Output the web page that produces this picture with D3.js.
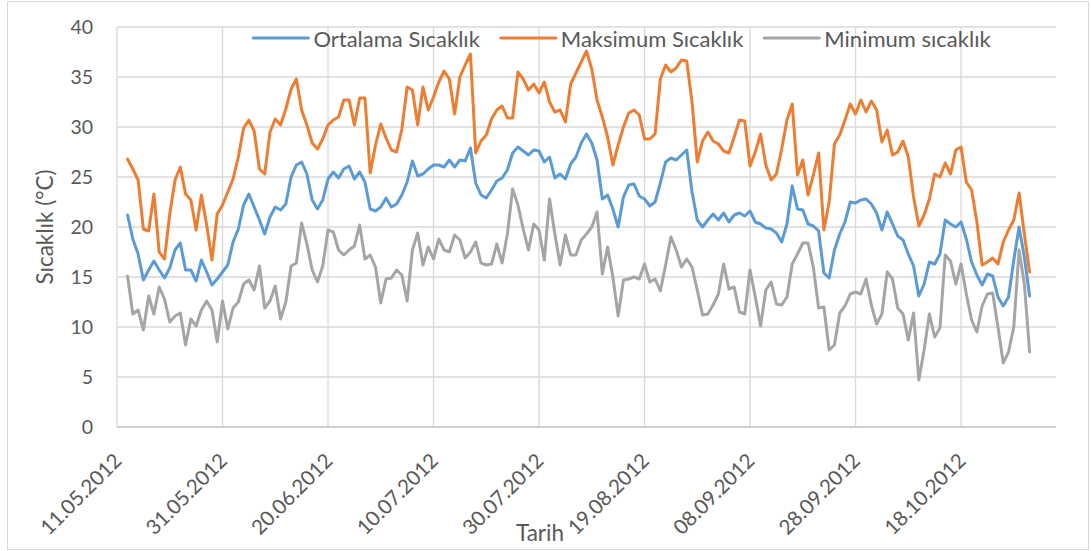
<!DOCTYPE html>
<html>
<head>
<meta charset="utf-8">
<script src="https://cdn.jsdelivr.net/npm/d3@7/dist/d3.min.js"></script>
<style>
	body { margin: 0; background: #fff; }
	text { font-family: Lato, "Open Sans", sans-serif; fill: #595959; }
</style>
</head>
<body>
<div id="vis"></div>
<script>

// daily values, first one is 13.05.2012
var firstDay = "13.05.2012";
var axisStart = "11.05.2012";
var axisEnd = "05.11.2012";

var tickLabels = ["11.05.2012", "31.05.2012", "20.06.2012", "10.07.2012", "30.07.2012",
	"19.08.2012", "08.09.2012", "28.09.2012", "18.10.2012"];

var yTicks = [0, 5, 10, 15, 20, 25, 30, 35, 40];

var seriesNames = ["Ortalama Sıcaklık", "Maksimum Sıcaklık", "Minimum sıcaklık"];

var ortalama = [21.2, 18.8, 17.3, 14.7, 15.7, 16.6, 15.7, 14.9, 15.9, 17.7,
	18.4, 15.7, 15.7, 14.6, 16.7, 15.5, 14.2, 14.8, 15.5, 16.2,
	18.5, 19.8, 22.2, 23.3, 22.0, 20.7, 19.3, 21.0, 22.0, 21.7,
	22.3, 25.0, 26.2, 26.5, 25.3, 22.7, 21.8, 22.7, 24.8, 25.5,
	24.9, 25.8, 26.1, 24.8, 25.5, 24.5, 21.8, 21.6, 22.0, 22.9,
	22.0, 22.3, 23.2, 24.5, 26.6, 25.1, 25.3, 25.8, 26.2, 26.2,
	26.0, 26.7, 26.0, 26.7, 26.6, 27.9, 24.4, 23.2, 22.9, 23.7,
	24.6, 24.9, 25.7, 27.4, 28.0, 27.6, 27.2, 27.7, 27.6, 26.5,
	27.0, 24.9, 25.3, 24.8, 26.3, 27.0, 28.4, 29.3, 28.4, 26.7,
	22.8, 23.2, 21.8, 20.0, 23.0, 24.2, 24.3, 23.1, 22.8, 22.1,
	22.5, 24.4, 26.5, 26.9, 26.7, 27.2, 27.7, 23.5, 20.7, 20.0,
	20.7, 21.3, 20.7, 21.4, 20.5, 21.2, 21.4, 21.1, 21.6, 20.5,
	20.3, 19.9, 19.8, 19.4, 18.5, 20.3, 24.1, 21.8, 21.7, 20.3,
	20.1, 19.6, 15.4, 14.9, 17.7, 19.3, 20.5, 22.5, 22.4, 22.7,
	22.8, 22.3, 21.4, 19.7, 21.5, 20.3, 19.1, 18.7, 17.3, 16.1,
	13.1, 14.3, 16.5, 16.3, 17.3, 20.7, 20.3, 20.0, 20.5, 18.8,
	16.5, 15.2, 14.2, 15.3, 15.1, 13.0, 12.1, 13.0, 16.7, 20.0,
	17.0, 13.1];

var maksimum = [26.8, 25.8, 24.7, 19.8, 19.6, 23.3, 17.5, 16.8, 21.3, 24.7,
	26.0, 23.3, 22.7, 19.7, 23.2, 20.2, 16.7, 21.3, 22.2, 23.5,
	24.8, 27.0, 29.9, 30.7, 29.6, 25.8, 25.3, 29.5, 30.8, 30.2,
	31.8, 33.8, 34.8, 31.7, 30.2, 28.4, 27.8, 28.8, 30.2, 30.7,
	31.0, 32.7, 32.7, 30.2, 32.9, 32.9, 25.4, 28.2, 30.3, 28.9,
	27.7, 27.5, 29.8, 34.0, 33.7, 30.2, 34.0, 31.7, 33.0, 34.5,
	35.6, 34.8, 31.3, 35.0, 36.2, 37.3, 27.4, 28.6, 29.2, 30.8,
	31.7, 32.1, 30.9, 30.9, 35.5, 34.8, 33.7, 34.3, 33.4, 34.5,
	32.5, 31.5, 31.7, 30.5, 34.3, 35.4, 36.5, 37.6, 35.8, 32.7,
	31.0, 29.0, 26.2, 28.2, 30.0, 31.4, 31.7, 31.2, 28.8, 28.8,
	29.3, 34.8, 36.2, 35.5, 35.9, 36.7, 36.6, 32.5, 26.5, 28.6,
	29.5, 28.6, 28.3, 27.6, 27.4, 29.0, 30.7, 30.6, 26.1, 27.5,
	29.3, 26.2, 24.7, 25.3, 27.8, 30.7, 32.3, 25.2, 26.7, 23.2,
	25.2, 27.4, 19.7, 22.5, 28.3, 29.2, 30.7, 32.3, 31.3, 32.7,
	31.5, 32.6, 31.7, 28.5, 29.7, 27.2, 27.5, 28.6, 27.0, 23.0,
	20.1, 21.2, 22.8, 25.3, 25.0, 26.4, 25.3, 27.7, 28.0, 24.5,
	23.7, 20.5, 16.2, 16.5, 16.9, 16.3, 18.5, 19.7, 20.7, 23.4,
	19.3, 15.5];

var minimum = [15.1, 11.3, 11.7, 9.7, 13.1, 11.3, 14.0, 12.8, 10.5, 11.1,
	11.4, 8.2, 10.8, 10.1, 11.7, 12.6, 11.7, 8.5, 12.6, 9.8,
	11.9, 12.5, 14.3, 14.7, 13.7, 16.1, 11.9, 12.6, 14.1, 10.8,
	12.5, 16.1, 16.4, 20.4, 18.3, 15.7, 14.5, 16.1, 19.7, 19.5,
	17.7, 17.2, 17.7, 18.1, 20.2, 16.8, 17.2, 16.0, 12.4, 14.8,
	14.9, 15.7, 15.2, 12.6, 17.7, 19.4, 16.2, 18.0, 16.8, 18.8,
	17.7, 17.5, 19.2, 18.7, 16.9, 17.5, 18.5, 16.4, 16.2, 16.3,
	18.3, 16.4, 19.3, 23.8, 22.2, 19.8, 17.7, 20.3, 19.7, 16.7,
	22.8, 19.3, 16.2, 19.2, 17.2, 17.2, 18.7, 19.3, 20.0, 21.5,
	15.3, 18.0, 15.0, 11.1, 14.7, 14.8, 15.0, 14.8, 16.3, 14.5,
	14.8, 13.6, 16.2, 19.0, 17.7, 16.0, 16.8, 16.0, 13.7, 11.2,
	11.3, 12.2, 13.3, 16.3, 13.8, 14.0, 11.5, 11.3, 15.7, 13.0,
	10.1, 13.7, 14.5, 12.3, 12.2, 13.0, 16.3, 17.3, 18.4, 18.4,
	16.0, 11.9, 12.0, 7.7, 8.2, 11.4, 12.1, 13.3, 13.5, 13.3,
	14.8, 12.2, 10.3, 11.3, 15.5, 14.8, 11.9, 11.3, 8.7, 11.4,
	4.7, 7.7, 11.3, 9.0, 9.9, 17.2, 16.6, 14.3, 16.3, 13.3,
	10.7, 9.5, 12.1, 13.3, 13.4, 10.0, 6.4, 7.5, 10.0, 17.7,
	14.3, 7.5];

var colors = ["#5B9BD5", "#ED7D31", "#A5A5A5"];

function createChart(selector) {

	var width = 1091;
	var height = 551;

	// plot area in pixels
	var left = 117, right = 1056, top = 27, bottom = 427;

	var parse = d3.timeParse("%d.%m.%Y");
	var start = parse(firstDay);

	var x = d3.scaleTime()
		.domain([parse(axisStart), parse(axisEnd)])
		.range([left, right]);

	var y = d3.scaleLinear()
		.domain([0, 40])
		.range([bottom, top]);

	var svg = d3.select(selector)
		.append('svg')
		.attr('width', width)
		.attr('height', height);

	// outer chart border
	svg.append('rect')
		.attr('x', 7.5).attr('y', 1.5)
		.attr('width', 1081).attr('height', 548)
		.attr('fill', 'none')
		.attr('stroke', '#d9d9d9');

	var tickDates = tickLabels.map(parse);

	// horizontal grid
	svg.append('g')
		.selectAll('line')
		.data(yTicks.slice(1))
		.enter().append('line')
		.attr('x1', left).attr('x2', right)
		.attr('y1', d => y(d)).attr('y2', d => y(d))
		.attr('stroke', '#d9d9d9')
		.attr('stroke-width', 1.3);

	// vertical grid at date ticks
	svg.append('g')
		.selectAll('line')
		.data(tickDates)
		.enter().append('line')
		.attr('x1', d => x(d)).attr('x2', d => x(d))
		.attr('y1', top).attr('y2', bottom)
		.attr('stroke', '#d9d9d9')
		.attr('stroke-width', 1.3);

	// x axis line
	svg.append('line')
		.attr('x1', left).attr('x2', right)
		.attr('y1', y(0)).attr('y2', y(0))
		.attr('stroke', '#bfbfbf')
		.attr('stroke-width', 1.5);

	// y tick labels
	svg.append('g')
		.selectAll('text')
		.data(yTicks)
		.enter().append('text')
		.attr('x', 93)
		.attr('y', d => y(d))
		.attr('dy', '0.35em')
		.attr('text-anchor', 'end')
		.attr('font-size', 19.5)
		.text(d => d);

	// x tick labels, rotated
	svg.append('g')
		.selectAll('text')
		.data(tickDates)
		.enter().append('text')
		.attr('transform', (d, i) => 'translate(' + (x(d) + 6) + ',' + 462 + ') rotate(-45)')
		.attr('text-anchor', 'end')
		.attr('font-size', 20.5)
		.text((d, i) => tickLabels[i]);

	// axis titles
	svg.append('text')
		.attr('transform', 'translate(53,' + ((top + bottom) / 2) + ') rotate(-90)')
		.attr('text-anchor', 'middle')
		.attr('font-size', 22.5)
		.text('Sıcaklık (°C)');

	svg.append('text')
		.attr('x', 540)
		.attr('y', 541)
		.attr('text-anchor', 'middle')
		.attr('font-size', 22.5)
		.text('Tarih');

	var line = d3.line()
		.x((d, i) => x(d3.timeDay.offset(start, i)))
		.y(d => y(d));

	// draw min first so average ends on top
	var series = [ortalama, maksimum, minimum];
	[2, 1, 0].forEach(function (k) {
		svg.append('path')
			.datum(series[k])
			.attr('d', line)
			.attr('fill', 'none')
			.attr('stroke', colors[k])
			.attr('stroke-width', 3)
			.attr('stroke-linejoin', 'round')
			.attr('stroke-linecap', 'round');
	});

	// legend, laid out from text widths
	var legend = svg.append('g');
	var pos = 0;
	seriesNames.forEach(function (name, k) {
		var item = legend.append('g').attr('transform', 'translate(' + pos + ',0)');
		item.append('line')
			.attr('x1', 0).attr('x2', 55)
			.attr('y1', 38).attr('y2', 38)
			.attr('stroke', colors[k])
			.attr('stroke-width', 3)
			.attr('stroke-linecap', 'round');
		var t = item.append('text')
			.attr('x', 60)
			.attr('y', 39)
			.attr('dy', '0.35em')
			.attr('font-size', 22)
			.text(name);
		pos += 60 + t.node().getComputedTextLength() + 21;
	});
	var legendWidth = pos - 21;
	legend.attr('transform', 'translate(' + (622 - legendWidth / 2) + ',0)');
}

createChart('#vis');

</script>
</body>
</html>
